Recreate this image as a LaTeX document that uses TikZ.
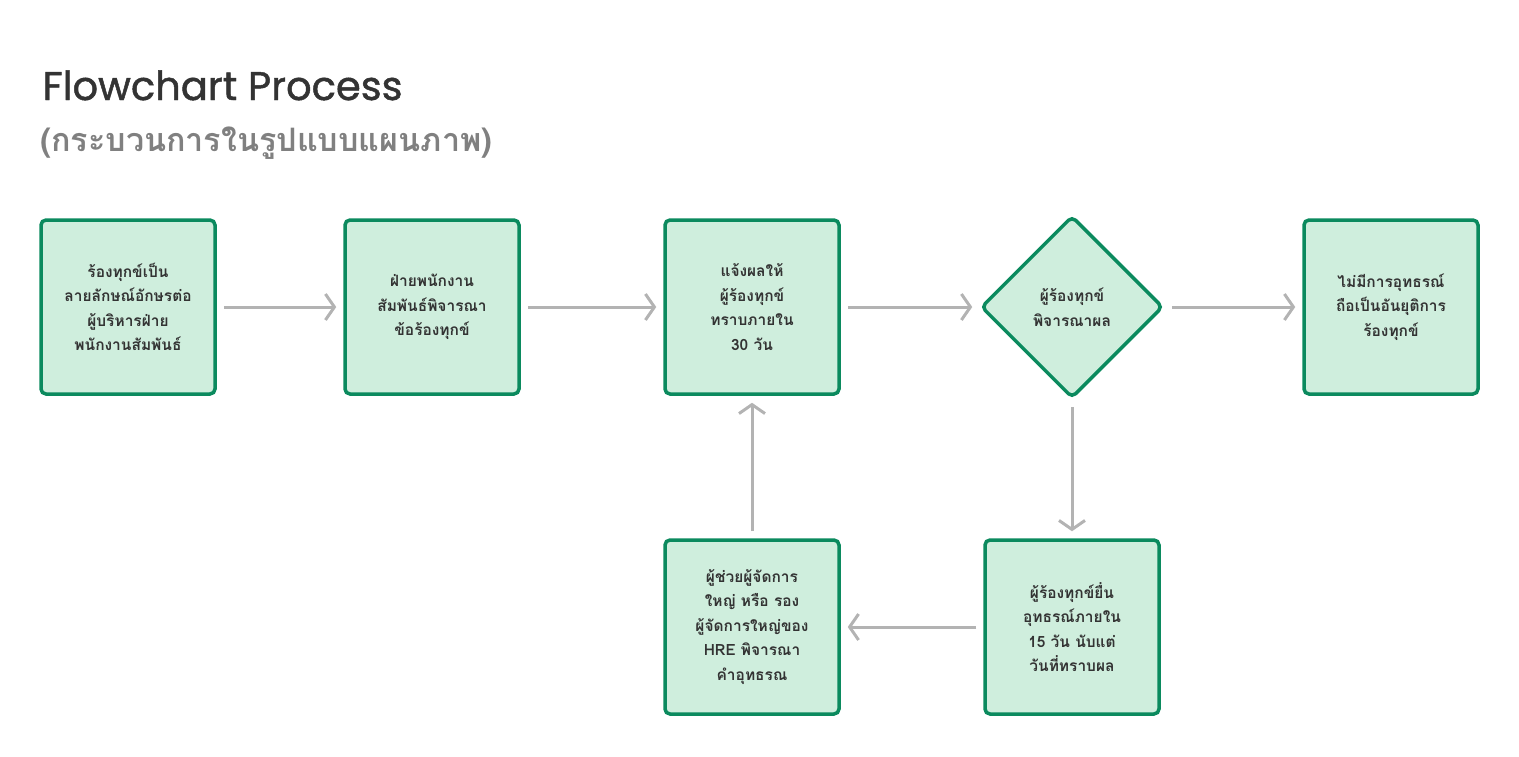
\documentclass[tikz,border=0pt]{standalone}
\usepackage{fontspec}
\setmainfont{Poppins}
\newfontfamily\titlefont[FakeBold=1.2]{Poppins}
\newfontfamily\thaifont[Script=Thai]{Loma}
\usetikzlibrary{shapes.geometric,arrows.meta}
\definecolor{boxgreen}{HTML}{0B8A5E}
\definecolor{boxfill}{HTML}{CFEEDD}
\definecolor{arrowgray}{HTML}{B3B3B3}
\definecolor{textgray}{HTML}{333333}
\tikzset{
  stepbox/.style={rectangle, rounded corners=5pt, draw=boxgreen, line width=3.5pt,
    fill=boxfill, minimum width=174pt, minimum height=174pt, align=center,
    text=textgray, font=\thaifont\fontsize{15.5}{24.5}\selectfont\bfseries},
  choicebox/.style={stepbox, diamond, aspect=1, minimum width=182pt, minimum height=182pt},
  flow/.style={draw=arrowgray, line width=3pt, shorten <=7pt, shorten >=7pt,
    -{Straight Barb[length=9pt,width=26pt,line width=3pt]}}
}
\begin{document}
\begin{tikzpicture}[x=1pt,y=1pt]
		\useasboundingbox (0,0) rectangle (1519,-756);
		\node [anchor=base west, text=textgray, font=\titlefont\fontsize{40}{40}\selectfont] (title) at (39,-100) {Flowchart Process};
		\node [anchor=base west, text=gray, font=\thaifont\fontsize{32.3}{32.3}\selectfont\bfseries] (subtitle) at (37,-151) {(กระบวนการในรูปแบบแผนภาพ)};
		\node [stepbox] (1) at (128,-307) {ร้องทุกข์เป็น\\ลายลักษณ์อักษรต่อ\\ผู้บริหารฝ่าย\\พนักงานสัมพันธ์};
		\node [stepbox] (2) at (432,-307) {ฝ่ายพนักงาน\\สัมพันธ์พิจารณา\\ข้อร้องทุกข์};
		\node [stepbox] (3) at (752,-307) {แจ้งผลให้\\ผู้ร้องทุกข์\\ทราบภายใน\\30 วัน};
		\node [choicebox] (4) at (1072,-307) {ผู้ร้องทุกข์\\พิจารณาผล};
		\node [stepbox] (5) at (1391,-307) {ไม่มีการอุทธรณ์\\ถือเป็นอันยุติการ\\ร้องทุกข์};
		\node [stepbox] (6) at (1072,-627) {ผู้ร้องทุกข์ยื่น\\อุทธรณ์ภายใน\\15 วัน นับแต่\\วันที่ทราบผล};
		\node [stepbox] (7) at (752,-627) {ผู้ช่วยผู้จัดการ\\ใหญ่ หรือ รอง\\ผู้จัดการใหญ่ของ\\HRE พิจารณา\\คำอุทธรณ};
		\draw [flow] (1) -- (2);
		\draw [flow] (2) -- (3);
		\draw [flow] (3) -- (4);
		\draw [flow] (4) -- (5);
		\draw [flow] (4) -- (6);
		\draw [flow] (6) -- (7);
		\draw [flow] (7) -- (3);
\end{tikzpicture}
\end{document}
